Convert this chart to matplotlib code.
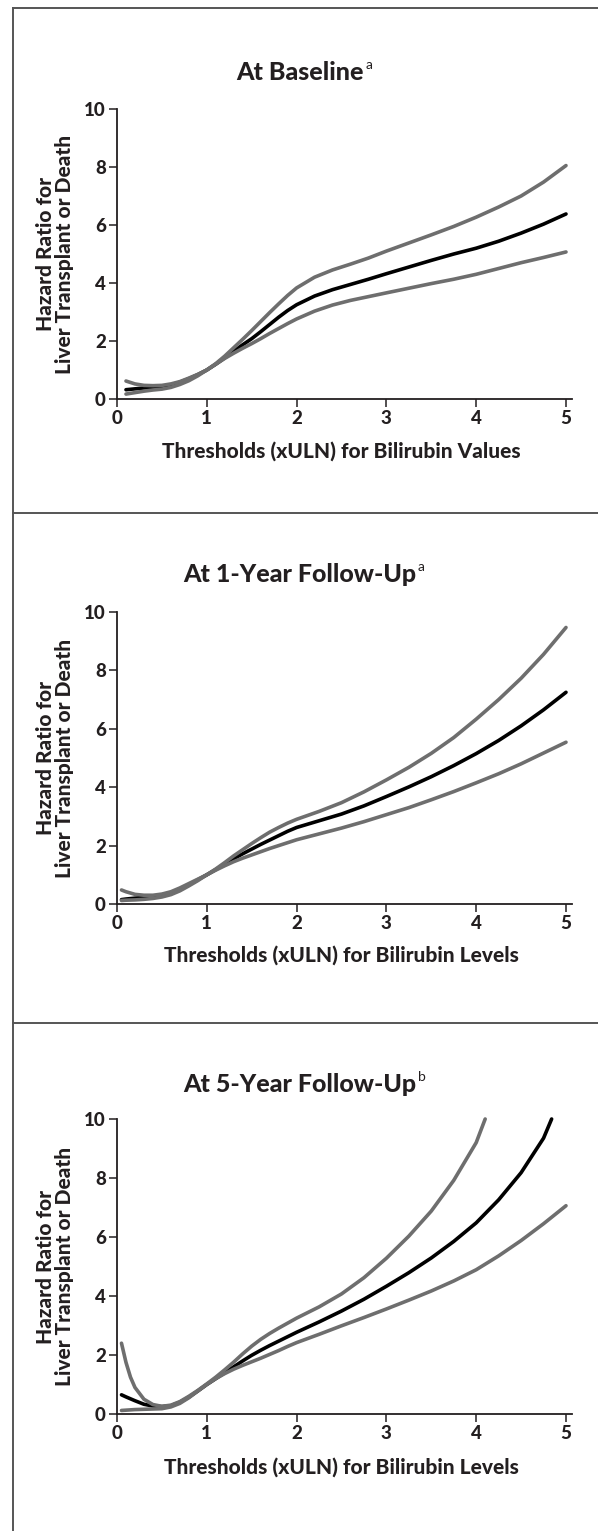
import numpy as np
import matplotlib.pyplot as plt
from matplotlib.lines import Line2D

plt.rcParams['font.family'] = ['Lato', 'DejaVu Sans']

# ---- data: hazard ratio curves with upper / lower bounds ----
# At baseline
base_x = [0.1, 0.2, 0.3, 0.4, 0.5, 0.6, 0.7, 0.8, 0.9, 1.0, 1.1, 1.2, 1.3, 1.4, 1.5, 1.6, 1.7,
          1.8, 1.9, 2.0, 2.2, 2.4, 2.6, 2.8, 3.0, 3.25, 3.5, 3.75, 4.0, 4.25, 4.5, 4.75, 5.0]
base_hr = [0.32, 0.35, 0.38, 0.40, 0.43, 0.48, 0.58, 0.70, 0.84, 1.0, 1.2, 1.42, 1.65, 1.87, 2.08,
           2.32, 2.57, 2.82, 3.05, 3.25, 3.55, 3.77, 3.95, 4.13, 4.32, 4.55, 4.78, 5.0, 5.2, 5.44,
           5.72, 6.03, 6.38]
base_hi = [0.62, 0.52, 0.47, 0.46, 0.47, 0.52, 0.6, 0.72, 0.85, 1.0, 1.22, 1.48, 1.77, 2.06, 2.36,
           2.67, 2.98, 3.28, 3.57, 3.83, 4.2, 4.45, 4.65, 4.86, 5.1, 5.38, 5.66, 5.95, 6.27, 6.62,
           7.0, 7.48, 8.05]
base_lo = [0.17, 0.22, 0.27, 0.31, 0.34, 0.4, 0.5, 0.63, 0.8, 1.0, 1.2, 1.4, 1.58, 1.75, 1.91,
           2.08, 2.26, 2.43, 2.6, 2.76, 3.03, 3.24, 3.4, 3.53, 3.66, 3.82, 3.98, 4.13, 4.3, 4.5,
           4.7, 4.88, 5.07]

# At 1-year follow-up
y1_x = [0.05, 0.1, 0.2, 0.3, 0.4, 0.5, 0.6, 0.7, 0.8, 0.9, 1.0, 1.1, 1.2, 1.3, 1.4, 1.5, 1.6,
        1.7, 1.8, 1.9, 2.0, 2.25, 2.5, 2.75, 3.0, 3.25, 3.5, 3.75, 4.0, 4.25, 4.5, 4.75, 5.0]
y1_hr = [0.15, 0.17, 0.2, 0.23, 0.26, 0.3, 0.37, 0.5, 0.66, 0.83, 1.0, 1.18, 1.37, 1.55, 1.72,
         1.88, 2.04, 2.19, 2.34, 2.49, 2.62, 2.85, 3.08, 3.36, 3.68, 4.01, 4.36, 4.74, 5.15, 5.6,
         6.1, 6.65, 7.25]
y1_hi = [0.48, 0.42, 0.33, 0.3, 0.3, 0.34, 0.42, 0.55, 0.7, 0.85, 1.0, 1.2, 1.42, 1.65, 1.86,
         2.07, 2.27, 2.46, 2.62, 2.77, 2.9, 3.17, 3.47, 3.84, 4.25, 4.68, 5.16, 5.7, 6.33, 7.0,
         7.73, 8.55, 9.47]
y1_lo = [0.12, 0.13, 0.14, 0.16, 0.19, 0.24, 0.32, 0.45, 0.62, 0.8, 1.0, 1.16, 1.31, 1.45, 1.57,
         1.68, 1.79, 1.9, 2.0, 2.1, 2.2, 2.4, 2.6, 2.82, 3.06, 3.3, 3.57, 3.85, 4.15, 4.46,
         4.8, 5.17, 5.54]

# At 5-year follow-up (curves leave the plot at HR = 10)
y5_hr_x = [0.05, 0.1, 0.2, 0.3, 0.4, 0.5, 0.6, 0.7, 0.8, 0.9, 1.0, 1.1, 1.2, 1.3, 1.4, 1.5, 1.6,
           1.7, 1.8, 1.9, 2.0, 2.25, 2.5, 2.75, 3.0, 3.25, 3.5, 3.75, 4.0, 4.25, 4.5, 4.75, 4.84]
y5_hr = [0.65, 0.58, 0.45, 0.33, 0.27, 0.25, 0.28, 0.4, 0.57, 0.78, 1.0, 1.2, 1.4, 1.6, 1.8,
         1.99, 2.16, 2.32, 2.47, 2.62, 2.77, 3.12, 3.49, 3.89, 4.33, 4.79, 5.29, 5.85, 6.48, 7.26,
         8.18, 9.35, 10.0]
y5_hi_x = [0.05, 0.1, 0.15, 0.2, 0.3, 0.4, 0.5, 0.6, 0.7, 0.8, 0.9, 1.0, 1.1, 1.2, 1.3, 1.4,
           1.5, 1.6, 1.7, 1.8, 1.9, 2.0, 2.25, 2.5, 2.75, 3.0, 3.25, 3.5, 3.75, 4.0, 4.1]
y5_hi = [2.4, 1.75, 1.25, 0.9, 0.5, 0.32, 0.26, 0.3, 0.42, 0.6, 0.8, 1.02, 1.25, 1.5, 1.76,
         2.04, 2.3, 2.53, 2.73, 2.91, 3.08, 3.25, 3.63, 4.07, 4.62, 5.28, 6.03, 6.88, 7.92, 9.2, 10.0]
y5_lo_x = [0.05, 0.1, 0.2, 0.3, 0.4, 0.5, 0.6, 0.7, 0.8, 0.9, 1.0, 1.1, 1.2, 1.3, 1.4, 1.5, 1.6,
           1.7, 1.8, 1.9, 2.0, 2.25, 2.5, 2.75, 3.0, 3.25, 3.5, 3.75, 4.0, 4.25, 4.5, 4.75, 5.0]
y5_lo = [0.12, 0.13, 0.15, 0.16, 0.17, 0.18, 0.24, 0.36, 0.55, 0.78, 1.0, 1.2, 1.37, 1.52, 1.65,
         1.77, 1.89, 2.02, 2.15, 2.29, 2.42, 2.7, 2.99, 3.27, 3.56, 3.86, 4.17, 4.51, 4.89, 5.36,
         5.88, 6.45, 7.06]

x_ticks = [0, 1, 2, 3, 4, 5]
y_ticks = [0, 2, 4, 6, 8, 10]

W, H = 598, 1531
fig = plt.figure(figsize=(W / 100, H / 100), dpi=100)

INK = '#231f20'
GREY = '#6e6e6e'
BOLD = 900

panels = [
    # title, superscript, xlabel, pixel y of 10, pixel y of 0, title y, xlabel y, curves
    ('At Baseline', 'a', 'Thresholds (xULN) for Bilirubin Values', 109, 399, 72, 451,
     [(base_x, base_hr), (base_x, base_hi), (base_x, base_lo)]),
    ('At 1-Year Follow-Up', 'a', 'Thresholds (xULN) for Bilirubin Levels', 612, 904, 574, 955,
     [(y1_x, y1_hr), (y1_x, y1_hi), (y1_x, y1_lo)]),
    ('At 5-Year Follow-Up', 'b', 'Thresholds (xULN) for Bilirubin Levels', 1119, 1414, 1084, 1467,
     [(y5_hr_x, y5_hr), (y5_hi_x, y5_hi), (y5_lo_x, y5_lo)]),
]

x_left, x_five = 117, 566
x_max = 5.07
x_right = x_left + (x_five - x_left) * x_max / 5

for title, sup, xlabel, top, bot, ty, ly, curves in panels:
    ax = fig.add_axes([x_left / W, 1 - bot / H, (x_right - x_left) / W, (bot - top) / H])
    ax.set_xlim(0, x_max)
    ax.set_ylim(0, 10)
    ax.spines[['top', 'right']].set_visible(False)
    for s in ('left', 'bottom'):
        ax.spines[s].set_linewidth(1.3)
        ax.spines[s].set_color(INK)
    ax.spines['left'].set_bounds(0, 10)
    ax.set_xticks(x_ticks)
    ax.set_yticks(y_ticks)
    ax.tick_params(length=6, width=1.1, color=INK, labelcolor=INK, labelsize=13.5, pad=2)
    for lab in ax.get_xticklabels() + ax.get_yticklabels():
        lab.set_fontweight(BOLD)

    # main estimate first, bounds drawn over it
    (hx, hy), (ux, uy), (lx, ly_) = curves
    ax.plot(hx, hy, color='black', lw=2.6, solid_capstyle='round', clip_on=False)
    ax.plot(ux, uy, color=GREY, lw=2.6, solid_capstyle='round', clip_on=False)
    ax.plot(lx, ly_, color=GREY, lw=2.6, solid_capstyle='round', clip_on=False)

    t = fig.text(300 / W, 1 - ty / H, title, ha='center', va='center',
                 fontsize=18, fontweight=BOLD, color=INK)
    ax.annotate(sup, xy=(1, 0.55), xycoords=t, xytext=(1, 0), textcoords='offset points',
                fontsize=10, color=INK, va='bottom', ha='left', annotation_clip=False)
    fig.text(341 / W, 1 - ly / H, xlabel, ha='center', va='center',
             fontsize=15, fontweight=BOLD, color=INK)
    fig.text(55 / W, 1 - (top + bot) / 2 / H, 'Hazard Ratio for\nLiver Transplant or Death',
             rotation=90, ha='center', va='center', fontsize=15, fontweight=BOLD,
             color=INK, linespacing=1.05, multialignment='center')

# frame lines: top, left and the two panel separators
for (x0, y0, x1, y1) in [(13, 8, W, 8), (13, 8, 13, H), (13, 513, W, 513), (13, 1023, W, 1023)]:
    fig.add_artist(Line2D([x0 / W, x1 / W], [1 - y0 / H, 1 - y1 / H],
                          transform=fig.transFigure, color='#555555', lw=1.4))

fig.savefig('out.png', dpi=100)
